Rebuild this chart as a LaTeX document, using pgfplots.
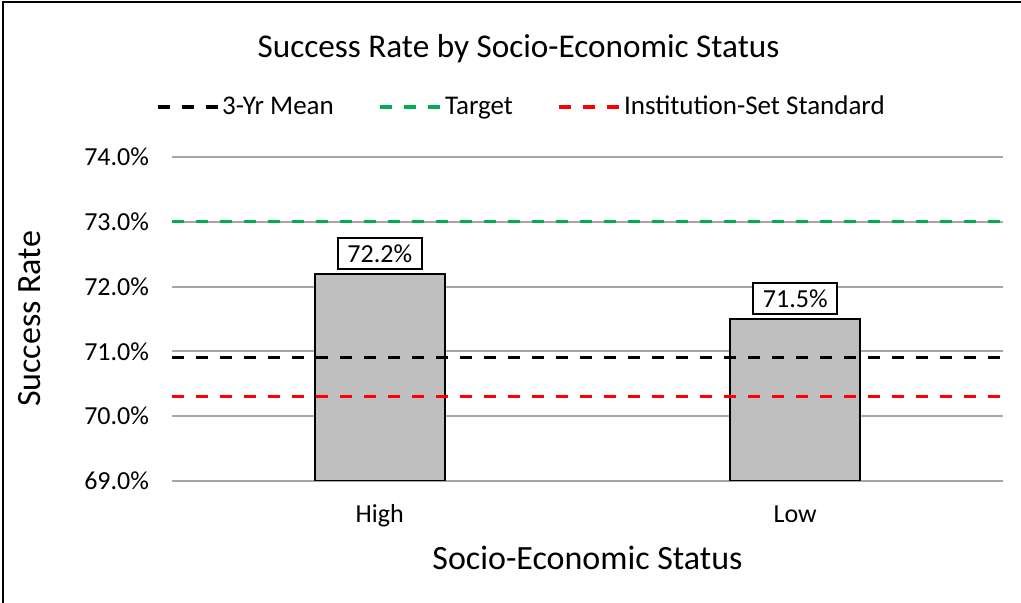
\documentclass[border=0pt]{standalone}
\usepackage{fontspec}
\setmainfont{Carlito}
\usepackage{pgfplots}
\pgfplotsset{compat=1.18}
\definecolor{gridgray}{RGB}{166,166,166}
\definecolor{bargray}{RGB}{191,191,191}
\definecolor{tgreen}{RGB}{0,176,80}
\definecolor{issred}{RGB}{255,0,0}
\begin{document}
\begin{tikzpicture}
\useasboundingbox (0,0) rectangle (510.5pt,301.5pt);
\draw[line width=1pt] (1.5pt,-3pt) rectangle (514pt,300.5pt);
\begin{axis}[
  at={(86pt,61pt)}, anchor=south west,
  scale only axis, width=415.5pt, height=162pt,
  xmin=-0.5, xmax=1.5, ymin=69, ymax=74,
  xtick={0,1}, xticklabels={High,Low},
  ytick={69,70,71,72,73,74},
  /pgf/number format/assume math mode=true,
  yticklabel={\pgfmathprintnumber[fixed,fixed zerofill,precision=1]{\tick}\%},
  tick label style={font=\fontsize{13}{15}\selectfont, text=black},
  yticklabel style={anchor=east, xshift=-8pt},
  xticklabel style={anchor=base, yshift=-21pt},
  major tick length=0pt,
  axis line style={draw=none},
  ymajorgrids, grid style={gridgray, line width=1pt},
  title={Success Rate by Socio-Economic Status},
  title style={font=\fontsize{16.6}{19}\selectfont, at={(axis description cs:0.417,1)}, anchor=center, yshift=48pt},
  ylabel={Success Rate},
  ylabel style={font=\fontsize{17}{19}\selectfont, at={(axis description cs:-0.1709,0.5)}, anchor=center},
  xlabel={Socio-Economic Status},
  xlabel style={font=\fontsize{17}{19}\selectfont, at={(axis description cs:0.5,-0.2377)}, anchor=center},
  legend columns=3,
  legend style={draw=none, fill=none, font=\fontsize{13.5}{16}\selectfont,
    at={(axis description cs:0.421,1)}, anchor=center, yshift=25pt,
    nodes={inner xsep=1.5pt},
    /tikz/every even column/.append style={column sep=21pt}},
  legend image code/.code={\draw[#1] (0pt,0pt) -- (30pt,0pt);},
  clip=true,
]
\addplot[ybar, bar width=65pt, fill=bargray, draw=black, line width=1pt, forget plot,
  nodes near coords={\pgfmathprintnumber[fixed,fixed zerofill,precision=1]{\pgfplotspointmeta}\%},
  nodes near coords style={draw=black, fill=white, line width=1pt, font=\fontsize{13}{15}\selectfont, inner xsep=4.8pt, inner ysep=3.2pt, yshift=2pt},
] coordinates {(0,72.2) (1,71.5)};
\addplot[black, line width=1.6pt, dash pattern=on 6pt off 6pt] coordinates {(-0.5,70.9) (1.5,70.9)};
\addlegendentry{3-Yr Mean}
\addplot[tgreen, line width=1.6pt, dash pattern=on 6pt off 6pt] coordinates {(-0.5,73.0) (1.5,73.0)};
\addlegendentry{Target}
\addplot[issred, line width=1.6pt, dash pattern=on 6pt off 6pt] coordinates {(-0.5,70.3) (1.5,70.3)};
\addlegendentry{Institution-Set Standard}
\end{axis}
\end{tikzpicture}
\end{document}
